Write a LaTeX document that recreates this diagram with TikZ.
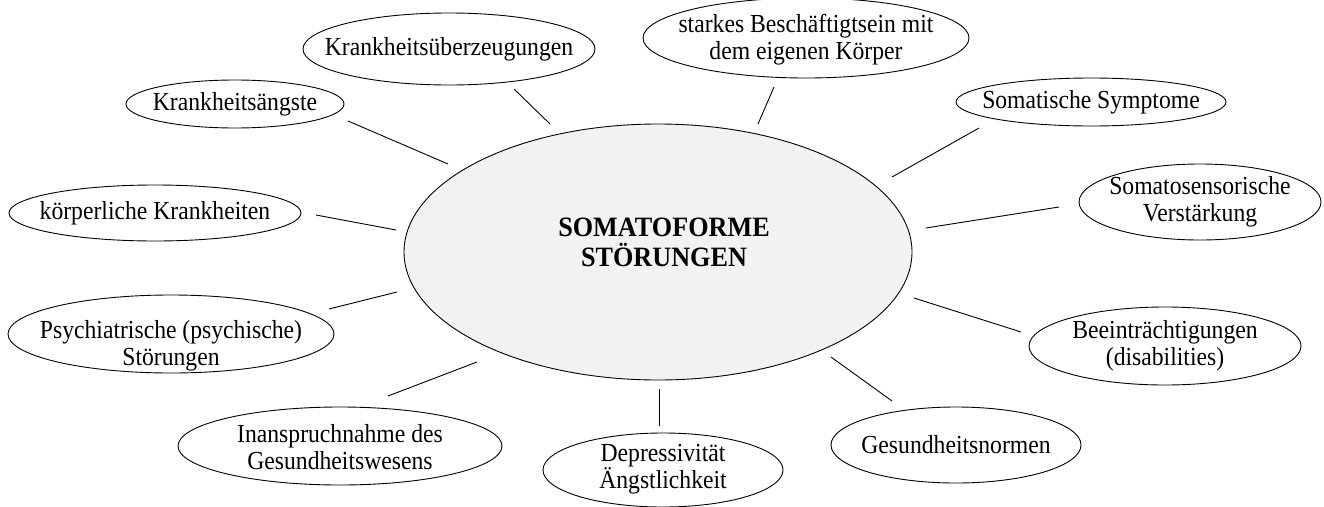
\documentclass[tikz,border=0pt]{standalone}
\usepackage{fontspec}
\setmainfont{Liberation Serif}[FakeStretch = 0.91]
\newfontfamily\corefont{Liberation Serif}[FakeStretch = 0.935]

\begin{document}
\begin{tikzpicture}[x = 1pt, y = -1pt, line width = .9pt,
	topic/.style = {font = \fontsize{26}{27}\selectfont, align = center, inner sep = 0pt},
	core/.style = {font = \corefont\bfseries\fontsize{28}{30}\selectfont, align = center, inner sep = 0pt}]
	\useasboundingbox (0, 0) rectangle (1324, 506);
	\draw [fill = gray!10] (658, 252) coordinate (mid) ellipse [x radius = 254pt, y radius = 128pt];
	\node [core] (som) at (664, 242) {SOMATOFORME\\STÖRUNGEN};
	% ellipses round the centre (text at \ty, ellipse at \y)
	\foreach \name/\x/\y/\ty/\rx/\ry/\txt in {
		kue/449/49/49/146/36/{Krankheitsüberzeugungen},
		kae/235/104/104/109/24/{Krankheitsängste},
		kk/155/213/213/146/28/{körperliche Krankheiten},
		psy/171/334/346/163/39/{Psychiatrische (psychische)\\Störungen},
		ige/340/446/447/162/39/{Inanspruchnahme des\\Gesundheitswesens},
		dep/663/470/469/120/37/{Depressivität\\Ängstlichkeit},
		gnorm/956/445/445/125/38/{Gesundheitsnormen},
		bee/1165/346/346/136/39/{Beeinträchtigungen\\(disabilities)},
		ssv/1200/202/202/121/38/{Somatosensorische\\Verstärkung},
		ssym/1091/102/102/135/24/{Somatische Symptome},
		bks/806/38/40/163/40/{starkes Beschäftigtsein mit\\dem eigenen Körper}}
	{
		\node [topic] (\name) at (\x, \ty) {\txt};
		\draw (\x, \y) ellipse [x radius = \rx pt, y radius = \ry pt];
	}
	% free-standing links
	\foreach \name/\ax/\ay/\bx/\by in {
		kue/514/89/550/124, kae/348/121/448/164, kk/316/215/396/230,
		psy/329/309/397/292, ige/388/396/477/362, dep/659/389/659/426,
		gnorm/831/357/892/401, bee/914/298/1021/332, ssv/926/228/1059/207,
		ssym/892/177/979/128, bks/758/124/774/87}
	{
		\path (\ax, \ay) coordinate (\name-in) (\bx, \by) coordinate (\name-out);
		\draw (\name-in) -- (\name-out);
	}
\end{tikzpicture}
\end{document}
